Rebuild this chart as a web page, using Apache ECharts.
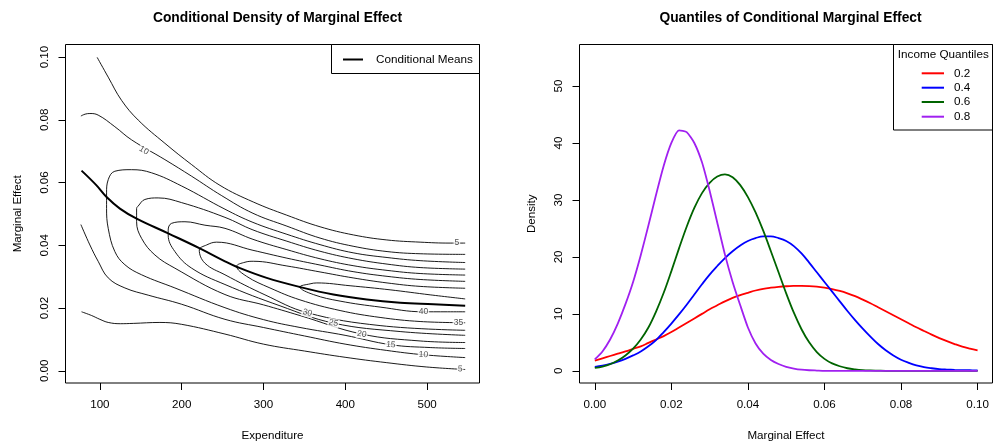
<!DOCTYPE html>
<html>
<head>
<meta charset="utf-8">
<script src="https://cdn.jsdelivr.net/npm/echarts@6/dist/echarts.min.js"></script>
<style>
  html, body { margin: 0; padding: 0; background: #fff; }
  #chart { width: 993px; height: 447px; }
</style>
</head>
<body>
<div id="chart"></div>
<script>
// ---- Left panel: contours of the conditional density (level -> [expenditure, marginal effect]) ----
const contourLevels = [5, 10, 15, 20, 25, 30, 35, 40];

// levels 5 and 10 leave the plotted range on the left, so they come in two pieces
const contour5Upper = [[96.7,0.0999],[110.2,0.0936],[126.5,0.0862],[146.9,0.0799],[179.5,0.0725],[212.2,0.0657],[246.8,0.0591],[287.5,0.0538],[328.4,0.0496],[369.1,0.0459],[409.9,0.0433],[450.7,0.0417],[491.4,0.0410],[528.1,0.0407],[546.5,0.0407]];
const contour5Lower = [[77.6,0.0188],[90,0.0176],[100,0.0164],[110.2,0.0154],[125,0.0150],[140.8,0.0151],[173.4,0.0154],[200,0.0148],[252.9,0.0117],[299.8,0.0085],[350,0.0063],[399.7,0.0043],[450,0.0026],[499.6,0.0012],[546.5,0.0004]];
const contour10Upper = [[76.8,0.0812],[82,0.0818],[87.8,0.0820],[97.9,0.0815],[118.3,0.0778],[138.8,0.0736],[179.5,0.0673],[212.2,0.0620],[249,0.0558],[287.1,0.0502],[328.6,0.0461],[369.1,0.0423],[409.5,0.0397],[451,0.0380],[491.4,0.0373],[546.5,0.0371]];
const contour10Lower = [[76.8,0.0466],[87.8,0.0401],[97.9,0.0349],[110.2,0.0296],[130.6,0.0264],[159.1,0.0241],[200,0.0212],[252.9,0.0164],[299.8,0.0138],[350,0.0111],[399.7,0.0085],[450,0.0065],[495.5,0.0051],[546.5,0.0042]];
// closed-nosed levels: lower branch (right to left), around the nose, upper branch (left to right)
const contour15 = [[546.5,0.0071],[503.7,0.0074],[455.6,0.0083],[399.7,0.0113],[344.6,0.0138],[300,0.0163],[252.9,0.0201],[191.7,0.0264],[151,0.0306],[130.6,0.0338],[118.3,0.0380],[110.2,0.0454],[108.2,0.0517],[108.2,0.0567],[110.2,0.0609],[118.3,0.0636],[138.8,0.0641],[163.2,0.0631],[199.9,0.0589],[252.9,0.0515],[287.1,0.0473],[328.6,0.0435],[369.1,0.0402],[409.5,0.0376],[451,0.0361],[491.4,0.0351],[546.5,0.0345]];
const contour20 = [[546.5,0.0090],[491.4,0.0095],[420.1,0.0117],[344.6,0.0176],[300,0.0210],[252.9,0.0243],[191.7,0.0327],[167.3,0.0369],[151,0.0422],[144.9,0.0475],[144.9,0.0517],[146.8,0.0525],[155,0.0546],[171.3,0.0551],[199.9,0.0536],[252.9,0.0489],[287.1,0.0449],[328.6,0.0413],[369.1,0.0381],[409.5,0.0357],[451,0.0340],[491.4,0.0329],[546.5,0.0324]];
const contour25 = [[546.5,0.0113],[467,0.0125],[385.4,0.0152],[320.2,0.0207],[252.9,0.0275],[212.2,0.0327],[191.7,0.0380],[183.5,0.0433],[183.5,0.0448],[187.7,0.0470],[204,0.0475],[228.4,0.0464],[252.9,0.0454],[287.1,0.0419],[328.6,0.0386],[369.1,0.0357],[409.5,0.0335],[451,0.0320],[491.4,0.0310],[546.5,0.0305]];
const contour30 = [[546.5,0.0129],[442.5,0.0144],[353.6,0.0185],[301.8,0.0242],[252.9,0.0306],[228.4,0.0343],[221.5,0.0385],[230.5,0.0401],[242.7,0.0410],[287.1,0.0384],[328.6,0.0359],[369.1,0.0337],[409.5,0.0316],[451,0.0301],[491.4,0.0291],[546.5,0.0285]];
const contour35 = [[546.5,0.0153],[491.4,0.0157],[442.5,0.0170],[393.6,0.0192],[344.6,0.0226],[307.9,0.0264],[279.4,0.0301],[267.2,0.0333],[277.4,0.0346],[287.5,0.0349],[328.6,0.0334],[369.1,0.0315],[409.5,0.0296],[451,0.0280],[491.4,0.0269],[546.5,0.0263]];
const contour40 = [[546.5,0.0188],[495.5,0.0188],[442.5,0.0203],[393.6,0.0222],[360.9,0.0243],[344.6,0.0267],[356.9,0.0277],[365.1,0.0280],[405.8,0.0271],[454.7,0.0258],[503.7,0.0242],[546.5,0.0229]];

const contourPieces = {
  5: [contour5Upper, contour5Lower],
  10: [contour10Upper, contour10Lower],
  15: [contour15], 20: [contour20], 25: [contour25],
  30: [contour30], 35: [contour35], 40: [contour40]
};

// where each level's number is written on its line
const contourLabelSpots = [
  [10, 153.8, 0.0702], [5, 536.3, 0.0407],
  [30, 353.6, 0.0185], [25, 385.4, 0.0152], [20, 420.1, 0.0117], [15, 455.6, 0.0083],
  [10, 495.5, 0.0051], [5, 540.4, 0.0006], [40, 495.5, 0.0188], [35, 538.3, 0.0153]
];
const contourLabelTilt = [-31, 0, -15, -12, -8, -5, -4, -2, 0, 0];

const conditionalMeans = [[77.6,0.0638],[95.9,0.0591],[108.2,0.0554],[124.5,0.0517],[144.9,0.0485],[183.5,0.0438],[221.5,0.0391],[252.9,0.0349],[268.4,0.0330],[303.9,0.0296],[344.6,0.0267],[385.4,0.0243],[426.2,0.0227],[467,0.0217],[507.7,0.0212],[546.5,0.0207]];

const expenditureTicks = [100, 200, 300, 400, 500];
const effectTicksLeft = [0, 0.02, 0.04, 0.06, 0.08, 0.10];

// ---- Right panel: densities of the marginal effect at four income quantiles ----
const effectGrid = [0,0.002,0.004,0.006,0.008,0.010,0.012,0.014,0.016,0.018,0.020,0.022,0.024,0.026,0.028,0.030,0.032,0.034,0.036,0.038,0.040,0.042,0.044,0.046,0.048,0.050,0.052,0.054,0.056,0.058,0.060,0.062,0.064,0.066,0.068,0.070,0.072,0.074,0.076,0.078,0.080,0.082,0.084,0.086,0.088,0.090,0.092,0.094,0.096,0.098,0.100];
const quantileNames = ['0.2', '0.4', '0.6', '0.8'];
const density02 = [1.8,2.2,2.6,3.0,3.4,3.85,4.3,4.9,5.5,6.1,6.8,7.6,8.4,9.2,10.0,10.8,11.5,12.2,12.8,13.3,13.7,14.1,14.4,14.6,14.75,14.85,14.9,14.92,14.88,14.78,14.6,14.35,14.02,13.6,13.1,12.5,11.85,11.15,10.45,9.75,9.05,8.35,7.65,7.0,6.35,5.75,5.2,4.7,4.25,3.9,3.6];
const density04 = [0.7,0.9,1.2,1.6,2.1,2.7,3.4,4.3,5.4,6.8,8.3,9.9,11.6,13.4,15.2,16.9,18.4,19.8,21.0,22.0,22.8,23.3,23.6,23.6,23.3,22.8,21.9,20.6,19.0,17.3,15.6,13.9,12.2,10.5,8.9,7.4,6.0,4.7,3.6,2.7,1.95,1.4,0.95,0.65,0.45,0.3,0.22,0.16,0.12,0.1,0.08];
const density06 = [0.5,0.75,1.15,1.8,2.7,3.9,5.5,7.6,10.4,13.7,17.5,21.5,25.3,28.6,31.2,33.0,34.1,34.5,34.0,32.6,30.5,27.8,24.6,21.0,17.3,13.6,10.2,7.3,5.0,3.3,2.1,1.3,0.8,0.45,0.25,0.12,0.06,0.03,0,0,0,0,0,0,0,0,0,0,0,0,0];
const density08 = [2.0,3.4,5.5,8.3,11.7,15.6,20.3,25.5,30.9,36.0,40.0,42.2,41.9,40.0,36.6,31.6,26.0,20.4,15.6,11.5,7.6,4.8,3.0,1.9,1.2,0.7,0.4,0.2,0.1,0.05,0,0,0,0,0,0,0,0,0,0,0,0,0,0,0,0,0,0,0,0,0];
const densitySeries = [density02, density04, density06, density08];

const effectTicksRight = [0, 0.02, 0.04, 0.06, 0.08, 0.10];
const densityTicks = [0, 10, 20, 30, 40, 50];

// ---- styling ----
const FONT = '"Liberation Sans", Arial, Helvetica, sans-serif';
const quantileColors = ['#FF0000', '#0000FF', '#006400', '#A020F0'];
const quantileSmooth = [0.4, 0.4, 0.35, 0.2];

function axisCommon(ticks, fmt, isY) {
  return {
    type: 'value',
    axisLine: { show: false, onZero: false },
    splitLine: { show: false },
    axisTick: { show: true, inside: false, length: 7, customValues: ticks, lineStyle: { color: '#000', width: 1 } },
    axisLabel: {
      customValues: ticks, formatter: fmt, color: '#000', fontSize: 11.6, fontFamily: FONT,
      margin: isY ? 15 : 16, rotate: isY ? 90 : 0
    },
    nameLocation: 'middle',
    nameTextStyle: { color: '#000', fontSize: 11.6, fontFamily: FONT }
  };
}

const series = [];
contourLevels.forEach(level => {
  contourPieces[level].forEach(piece => {
    series.push({
      type: 'line', xAxisIndex: 0, yAxisIndex: 0, data: piece,
      showSymbol: false, smooth: 0.4, silent: true,
      lineStyle: { color: '#000', width: 0.9 }, z: 2
    });
  });
});
series.push({
  type: 'line', xAxisIndex: 0, yAxisIndex: 0, data: conditionalMeans,
  showSymbol: false, smooth: 0.4, silent: true,
  lineStyle: { color: '#000', width: 2 }, z: 3
});
series.push({
  type: 'scatter', xAxisIndex: 0, yAxisIndex: 0, symbolSize: 0, silent: true, z: 5,
  data: contourLabelSpots.map((s, i) => ({
    value: [s[1], s[2]], name: String(s[0]),
    label: { rotate: contourLabelTilt[i] }
  })),
  label: {
    show: true, position: 'inside', formatter: p => p.name,
    fontSize: 8.5, fontFamily: FONT, color: '#222',
    backgroundColor: '#fff', padding: [0, 1]
  }
});
densitySeries.forEach((vals, k) => {
  series.push({
    type: 'line', name: quantileNames[k], xAxisIndex: 1, yAxisIndex: 1,
    data: effectGrid.map((x, i) => [x, vals[i]]),
    showSymbol: false, silent: true, smooth: quantileSmooth[k],
    lineStyle: { color: quantileColors[k], width: 1.8 }, z: 2 + k
  });
});

const xLeft = Object.assign(axisCommon(expenditureTicks, v => String(v), false),
  { gridIndex: 0, min: 58, max: 564, name: 'Expenditure', nameGap: 47 });
const yLeft = Object.assign(axisCommon(effectTicksLeft, v => v.toFixed(2), true),
  { gridIndex: 0, min: -0.0039, max: 0.104, name: 'Marginal Effect', nameGap: 42 });
const xRight = Object.assign(axisCommon(effectTicksRight, v => v.toFixed(2), false),
  { gridIndex: 1, min: -0.004, max: 0.1039, name: 'Marginal Effect', nameGap: 47 });
const yRight = Object.assign(axisCommon(densityTicks, v => String(v), true),
  { gridIndex: 1, min: -2.14, max: 57.29, name: 'Density', nameGap: 42 });

// legend boxes in the plot corners
const legendItems = [];
legendItems.push(
  { type: 'rect', shape: { x: 331.5, y: 44.5, width: 148, height: 29 }, style: { fill: '#fff', stroke: '#000', lineWidth: 1 }, z: 100 },
  { type: 'line', shape: { x1: 343, y1: 59.5, x2: 363, y2: 59.5 }, style: { stroke: '#000', lineWidth: 2 }, z: 101 },
  { type: 'text', x: 376, y: 59.5, style: { text: 'Conditional Means', font: '11.7px ' + FONT, fill: '#000', textVerticalAlign: 'middle' }, z: 101 },
  { type: 'rect', shape: { x: 893.5, y: 44.5, width: 99, height: 85.5 }, style: { fill: '#fff', stroke: '#000', lineWidth: 1 }, z: 100 },
  { type: 'text', x: 943.3, y: 55, style: { text: 'Income Quantiles', font: '11.7px ' + FONT, fill: '#000', textAlign: 'center', textVerticalAlign: 'middle' }, z: 101 }
);
const legendRows = [73.3, 87.7, 102, 116.7];
quantileNames.forEach((nm, k) => {
  legendItems.push(
    { type: 'line', shape: { x1: 921.7, y1: legendRows[k], x2: 944, y2: legendRows[k] }, style: { stroke: quantileColors[k], lineWidth: 2 }, z: 101 },
    { type: 'text', x: 954, y: legendRows[k], style: { text: nm, font: '11.7px ' + FONT, fill: '#000', textVerticalAlign: 'middle' }, z: 101 }
  );
});

const option = {
  animation: false,
  backgroundColor: '#fff',
  textStyle: { fontFamily: FONT },
  title: [
    { text: 'Conditional Density of Marginal Effect', left: 272.5, top: 6, textAlign: 'center',
      textStyle: { fontSize: 13.8, fontWeight: 'bold', color: '#000', fontFamily: FONT } },
    { text: 'Quantiles of Conditional Marginal Effect', left: 785.5, top: 6, textAlign: 'center',
      textStyle: { fontSize: 13.8, fontWeight: 'bold', color: '#000', fontFamily: FONT } }
  ],
  grid: [
    { left: 65.5, top: 44.5, width: 414, height: 341.5, show: true, borderColor: '#000', borderWidth: 1, backgroundColor: 'transparent', containLabel: false },
    { left: 579.5, top: 44.5, width: 413, height: 341.5, show: true, borderColor: '#000', borderWidth: 1, backgroundColor: 'transparent', containLabel: false }
  ],
  xAxis: [xLeft, xRight],
  yAxis: [yLeft, yRight],
  series: series,
  graphic: legendItems
};

const chart = echarts.init(document.getElementById('chart'), null, { renderer: 'canvas' });
chart.setOption(option);
</script>
</body>
</html>
